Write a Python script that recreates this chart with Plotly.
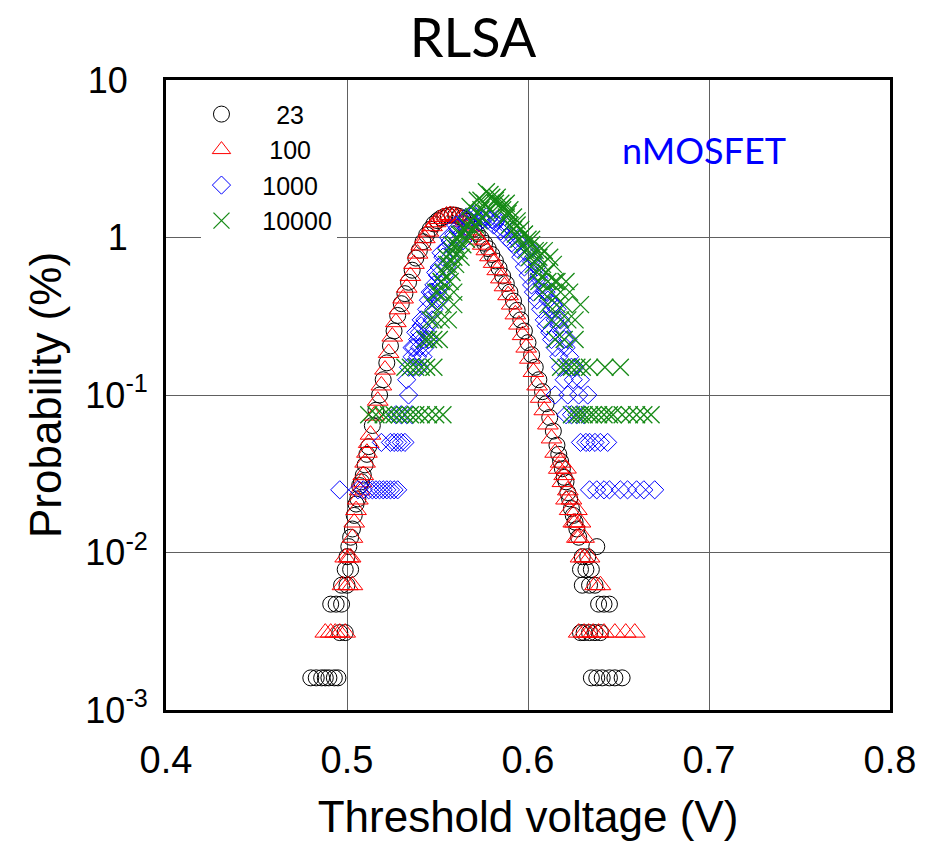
import plotly.graph_objects as go

# ---------------- data ----------------
# 23 (black circles)
v23 = [0.500, 0.502, 0.504, 0.506, 0.508, 0.510, 0.512, 0.514, 0.516, 0.518,
       0.520, 0.522, 0.524, 0.526, 0.528, 0.530, 0.532, 0.534, 0.536, 0.538,
       0.540, 0.542, 0.544, 0.546, 0.548, 0.550, 0.552, 0.554, 0.556, 0.558,
       0.560, 0.562, 0.564, 0.566, 0.568, 0.570, 0.572, 0.574, 0.576, 0.578,
       0.580, 0.582, 0.584, 0.586, 0.588, 0.590, 0.592, 0.594, 0.596, 0.598,
       0.600, 0.602, 0.604, 0.606, 0.608, 0.610, 0.612, 0.614, 0.616, 0.618,
       0.620, 0.622, 0.624, 0.626, 0.628, 0.630,
       0.480, 0.483, 0.486, 0.488, 0.490, 0.493, 0.495, 0.491, 0.494, 0.497,
       0.496, 0.499, 0.497, 0.500, 0.502, 0.499, 0.501, 0.503, 0.505, 0.507,
       0.511, 0.509,
       0.629, 0.632, 0.635, 0.630, 0.634, 0.637, 0.638, 0.633, 0.639, 0.642,
       0.645, 0.629, 0.631, 0.634, 0.637, 0.640, 0.635, 0.638, 0.641, 0.645,
       0.648, 0.652, 0.627, 0.625, 0.623, 0.621, 0.619, 0.617]
p23 = [0.0094, 0.0125, 0.0172, 0.0219, 0.0281, 0.036, 0.047, 0.064, 0.080, 0.100,
       0.125, 0.160, 0.205, 0.255, 0.320, 0.380, 0.440, 0.520, 0.620, 0.740,
       0.830, 0.940, 1.040, 1.130, 1.220, 1.280, 1.330, 1.360, 1.380, 1.390,
       1.385, 1.360, 1.320, 1.270, 1.200, 1.130, 1.060, 0.990, 0.920, 0.850,
       0.780, 0.710, 0.640, 0.570, 0.510, 0.450, 0.395, 0.345, 0.300, 0.255,
       0.215, 0.180, 0.150, 0.125, 0.105, 0.088, 0.072, 0.059, 0.048, 0.038,
       0.030, 0.024, 0.019, 0.0156, 0.0125, 0.0094,
       0.0016, 0.0016, 0.0016, 0.0016, 0.0016, 0.0016, 0.0016, 0.0047, 0.0047, 0.0047,
       0.0031, 0.0031, 0.0062, 0.0062, 0.0078, 0.0078, 0.0109, 0.0141, 0.0203, 0.0266,
       0.0420, 0.0310,
       0.0078, 0.0078, 0.0078, 0.0062, 0.0062, 0.0062, 0.0109, 0.0094, 0.0047, 0.0047,
       0.0047, 0.0031, 0.0031, 0.0031, 0.0031, 0.0031, 0.0016, 0.0016, 0.0016, 0.0016,
       0.0016, 0.0016, 0.0141, 0.0172, 0.0219, 0.0281, 0.0340, 0.0420]

# 100 (red triangles)
v100 = [0.501, 0.503, 0.505, 0.507, 0.509, 0.511, 0.513, 0.515, 0.517, 0.519,
        0.521, 0.523, 0.525, 0.527, 0.529, 0.531, 0.533, 0.535, 0.537, 0.539,
        0.541, 0.543, 0.545, 0.547, 0.549, 0.551, 0.553, 0.555, 0.557, 0.559,
        0.561, 0.563, 0.565, 0.567, 0.569, 0.571, 0.573, 0.575, 0.577, 0.579,
        0.581, 0.583, 0.585, 0.587, 0.589, 0.591, 0.593, 0.595, 0.597, 0.599,
        0.601, 0.603, 0.605, 0.607, 0.609, 0.611, 0.613, 0.615, 0.617, 0.619,
        0.621, 0.623, 0.625, 0.627, 0.629,
        0.488, 0.491, 0.4935, 0.496, 0.499, 0.4975, 0.5005, 0.503, 0.499, 0.502,
        0.504, 0.506, 0.508, 0.510, 0.512,
        0.628, 0.631, 0.6335, 0.636, 0.639, 0.642, 0.648, 0.654, 0.659, 0.637,
        0.640, 0.631, 0.634, 0.628, 0.631, 0.626, 0.629, 0.624, 0.627, 0.622,
        0.620, 0.618, 0.621]
p100 = [0.0093, 0.0124, 0.0186, 0.0248, 0.0310, 0.0430, 0.0560, 0.0740, 0.0920, 0.1150,
        0.1450, 0.1850, 0.2350, 0.2900, 0.3500, 0.4100, 0.4800, 0.5700, 0.6800, 0.7900,
        0.8900, 0.9900, 1.0900, 1.1800, 1.2500, 1.3100, 1.3500, 1.3800, 1.3900, 1.3800,
        1.3600, 1.3200, 1.2600, 1.1900, 1.1100, 1.0400, 0.9700, 0.9000, 0.8300, 0.7600,
        0.6900, 0.6200, 0.5500, 0.4900, 0.4300, 0.3750, 0.3250, 0.2800, 0.2400, 0.2000,
        0.1700, 0.1400, 0.1150, 0.0960, 0.0800, 0.0650, 0.0530, 0.0430, 0.0340, 0.0280,
        0.0217, 0.0186, 0.0155, 0.0124, 0.0093,
        0.0031, 0.0031, 0.0031, 0.0031, 0.0031, 0.0062, 0.0062, 0.0062, 0.0093, 0.0093,
        0.0155, 0.0217, 0.0279, 0.0372, 0.0496,
        0.0031, 0.0031, 0.0031, 0.0031, 0.0031, 0.0031, 0.0031, 0.0031, 0.0031, 0.0062,
        0.0062, 0.0093, 0.0093, 0.0124, 0.0124, 0.0155, 0.0155, 0.0217, 0.0186, 0.0248,
        0.0310, 0.0372, 0.0341]

# 1000 (blue diamonds)
v1000 = [0.496, 0.506, 0.509, 0.512, 0.514, 0.516, 0.518, 0.520, 0.522, 0.524, 0.526, 0.528,
         0.519, 0.524, 0.526, 0.528, 0.530, 0.532,
         0.527, 0.530, 0.533, 0.536,
         0.534, 0.533,
         0.534, 0.537, 0.540, 0.536, 0.539, 0.542, 0.537, 0.540, 0.543,
         0.539, 0.542, 0.545, 0.540, 0.544, 0.541, 0.545, 0.543, 0.547,
         0.544, 0.548, 0.545, 0.549, 0.551, 0.546, 0.550, 0.548, 0.552,
         0.550, 0.554, 0.551, 0.555, 0.553, 0.557, 0.555, 0.559,
         0.557, 0.561, 0.564, 0.559, 0.563, 0.561, 0.566,
         0.564, 0.569, 0.573, 0.567, 0.575, 0.580, 0.571, 0.577,
         0.583, 0.586, 0.581, 0.589, 0.585, 0.592, 0.588, 0.595,
         0.591, 0.598, 0.594, 0.601, 0.596, 0.603, 0.598, 0.605,
         0.600, 0.606, 0.602, 0.608, 0.603, 0.609, 0.613, 0.605, 0.611,
         0.607, 0.613, 0.616, 0.609, 0.615, 0.610, 0.617, 0.612, 0.619,
         0.613, 0.620, 0.615, 0.621, 0.617, 0.623, 0.618, 0.624,
         0.620, 0.625, 0.629, 0.615, 0.622, 0.628, 0.633,
         0.621, 0.624, 0.627, 0.631,
         0.629, 0.632, 0.634, 0.637, 0.640, 0.644,
         0.634, 0.638, 0.642, 0.645, 0.651, 0.655, 0.660, 0.664, 0.670,
         0.566, 0.570, 0.574, 0.578, 0.582, 0.560, 0.556, 0.552, 0.549, 0.547,
         0.586, 0.590, 0.594, 0.599, 0.602, 0.606, 0.610, 0.614, 0.541, 0.538,
         0.536, 0.618, 0.622, 0.626]
p1000 = [0.025, 0.025, 0.025, 0.025, 0.025, 0.025, 0.025, 0.025, 0.025, 0.025, 0.025, 0.025,
         0.05, 0.05, 0.05, 0.05, 0.05, 0.05,
         0.075, 0.075, 0.075, 0.075,
         0.1, 0.125,
         0.15, 0.15, 0.15, 0.175, 0.175, 0.175, 0.2, 0.2, 0.2,
         0.225, 0.225, 0.225, 0.25, 0.25, 0.275, 0.275, 0.3, 0.3,
         0.35, 0.35, 0.4, 0.4, 0.4, 0.45, 0.45, 0.5, 0.5,
         0.575, 0.575, 0.65, 0.65, 0.75, 0.75, 0.85, 0.85,
         0.95, 0.95, 0.95, 1.05, 1.05, 1.15, 1.15,
         1.25, 1.25, 1.25, 1.3, 1.3, 1.3, 1.35, 1.35,
         1.3, 1.25, 1.2, 1.2, 1.1, 1.1, 1.0, 1.0,
         0.925, 0.925, 0.85, 0.85, 0.75, 0.75, 0.65, 0.65,
         0.575, 0.575, 0.5, 0.5, 0.45, 0.45, 0.45, 0.4, 0.4,
         0.35, 0.35, 0.35, 0.3, 0.3, 0.275, 0.275, 0.25, 0.25,
         0.225, 0.225, 0.2, 0.2, 0.175, 0.175, 0.15, 0.15,
         0.125, 0.125, 0.125, 0.1, 0.1, 0.1, 0.1,
         0.075, 0.075, 0.075, 0.075,
         0.05, 0.05, 0.05, 0.05, 0.05, 0.05,
         0.025, 0.025, 0.025, 0.025, 0.025, 0.025, 0.025, 0.025, 0.025,
         1.35, 1.4, 1.35, 1.3, 1.25, 1.2, 1.0, 0.8, 0.6, 0.45,
         1.15, 1.05, 0.95, 0.8, 0.7, 0.55, 0.45, 0.375, 0.3, 0.25,
         0.2, 0.3, 0.225, 0.15]

# 10000 (green crosses)
v10000 = [0.512, 0.516, 0.520, 0.523, 0.526, 0.529, 0.532, 0.535, 0.538, 0.541, 0.545, 0.549, 0.553,
          0.532, 0.535, 0.538, 0.541, 0.544, 0.548,
          0.545, 0.548, 0.551, 0.548, 0.552, 0.556, 0.547, 0.553, 0.559,
          0.550, 0.554, 0.559, 0.552, 0.557, 0.553, 0.558, 0.556, 0.560,
          0.555, 0.559, 0.563, 0.558, 0.562, 0.560, 0.564, 0.561, 0.566,
          0.563, 0.567, 0.565, 0.570, 0.566, 0.571, 0.568, 0.573, 0.570, 0.575,
          0.572, 0.577, 0.574, 0.579, 0.576, 0.582, 0.574, 0.580, 0.577,
          0.583, 0.585, 0.588, 0.586, 0.590, 0.588, 0.592, 0.590, 0.594,
          0.592, 0.596, 0.593, 0.598, 0.595, 0.600, 0.597, 0.602,
          0.599, 0.604, 0.609, 0.601, 0.606, 0.612, 0.603, 0.608, 0.614,
          0.605, 0.610, 0.606, 0.611, 0.616, 0.621, 0.608, 0.613, 0.618, 0.623,
          0.611, 0.616, 0.629, 0.613, 0.618, 0.622, 0.615, 0.620, 0.626,
          0.618, 0.621, 0.624, 0.627, 0.630, 0.634, 0.6425, 0.651,
          0.624, 0.627, 0.629, 0.631, 0.634, 0.636, 0.639, 0.642, 0.645, 0.647,
          0.652, 0.656, 0.660, 0.664, 0.668,
          0.568, 0.572, 0.579, 0.582, 0.586, 0.589, 0.562, 0.558, 0.555, 0.552,
          0.594, 0.598, 0.602, 0.606, 0.610, 0.615, 0.620, 0.626, 0.549, 0.546,
          0.543]
p10000 = [0.075, 0.075, 0.075, 0.075, 0.075, 0.075, 0.075, 0.075, 0.075, 0.075, 0.075, 0.075, 0.075,
          0.15, 0.15, 0.15, 0.15, 0.15, 0.15,
          0.225, 0.225, 0.225, 0.3, 0.3, 0.3, 0.375, 0.375, 0.375,
          0.45, 0.45, 0.45, 0.525, 0.525, 0.6, 0.6, 0.675, 0.675,
          0.75, 0.75, 0.75, 0.825, 0.825, 0.9, 0.9, 0.975, 0.975,
          1.05, 1.05, 1.125, 1.125, 1.2, 1.2, 1.275, 1.275, 1.35, 1.35,
          1.425, 1.425, 1.5, 1.5, 1.65, 1.65, 1.725, 1.8, 1.95,
          1.8, 1.65, 1.65, 1.5, 1.5, 1.35, 1.35, 1.2, 1.2,
          1.125, 1.125, 1.05, 1.05, 0.975, 0.975, 0.9, 0.9,
          0.825, 0.825, 0.825, 0.75, 0.75, 0.75, 0.675, 0.675, 0.675,
          0.6, 0.6, 0.525, 0.525, 0.525, 0.525, 0.45, 0.45, 0.45, 0.45,
          0.375, 0.375, 0.375, 0.3, 0.3, 0.3, 0.225, 0.225, 0.225,
          0.15, 0.15, 0.15, 0.15, 0.15, 0.15, 0.15, 0.15,
          0.075, 0.075, 0.075, 0.075, 0.075, 0.075, 0.075, 0.075, 0.075, 0.075,
          0.075, 0.075, 0.075, 0.075, 0.075,
          1.575, 1.725, 1.875, 1.725, 1.575, 1.425, 1.05, 0.9, 0.675, 0.525,
          1.275, 1.05, 0.975, 0.825, 0.6, 0.525, 0.375, 0.3, 0.45, 0.3,
          0.225]

series_names = ["23", "100", "1000", "10000"]
NB = "\u00a0"
legend_labels = [NB * 5 + "23", NB * 4 + "100", NB * 3 + "1000", NB * 3 + "10000"]
x_ticks = [0.4, 0.5, 0.6, 0.7, 0.8]
x_tick_text = ["0.4", "0.5", "0.6", "0.7", "0.8"]
y_ticks = [0.001, 0.01, 0.1, 1, 10]
y_tick_text = ["10<sup>-3</sup>", "10<sup>-2</sup>", "10<sup>-1</sup>",
               "1" + NB * 2, "10" + NB * 2]

# ---------------- figure ----------------
styles = [
    dict(symbol="circle-open", size=16, color="black", lw=1),
    dict(symbol="triangle-up-open", size=18, color="#ff0000", lw=1),
    dict(symbol="diamond-open", size=14, color="#0000ff", lw=1),
    dict(symbol="x-thin-open", size=17, color="#168a16", lw=1.3),
]
xs = [v23, v100, v1000, v10000]
ys = [p23, p100, p1000, p10000]

fig = go.Figure()
for xv, yv, lab, st in zip(xs, ys, legend_labels, styles):
    fig.add_trace(go.Scatter(
        x=xv, y=yv, mode="markers", name=lab,
        marker=dict(symbol=st["symbol"], size=st["size"], color=st["color"],
                    line=dict(width=st["lw"], color=st["color"])),
    ))

axis_font = dict(family="Liberation Sans, Arial, sans-serif", color="black")

fig.update_layout(
    width=933, height=844,
    margin=dict(l=166, r=43, t=80, b=134),
    paper_bgcolor="white", plot_bgcolor="white",
    title=dict(text="RLSA", x=0.507, xref="container", xanchor="center",
               y=0.955, yref="container", yanchor="middle",
               font=dict(family="Lato, Open Sans, sans-serif", size=54, color="black")),
    showlegend=True,
    legend=dict(x=0.049, y=0.982, xanchor="left", yanchor="top",
                bgcolor="white", borderwidth=0,
                font=dict(family="Liberation Sans, Arial, sans-serif", size=25, color="black"),
                tracegroupgap=0, itemsizing="trace", entrywidth=104),
    annotations=[dict(text="nMOSFET", xref="paper", yref="paper", x=0.743, y=0.889,
                      showarrow=False, xanchor="center", yanchor="middle",
                      font=dict(family="Lato, Open Sans, sans-serif", size=36, color="#0000ff"))],
)

fig.update_xaxes(
    range=[0.4, 0.8], tickvals=x_ticks, ticktext=x_tick_text,
    showgrid=True, gridcolor="#606060", gridwidth=1, zeroline=False,
    showline=True, mirror=True, linecolor="black", linewidth=3, ticks="",
    tickfont=dict(size=38, **axis_font), ticklabelstandoff=14,
    title=dict(text="Threshold voltage (V)", font=dict(size=44, **axis_font), standoff=22),
)
fig.update_yaxes(
    type="log", range=[-3, 1], tickvals=y_ticks, ticktext=y_tick_text,
    showgrid=True, gridcolor="#606060", gridwidth=1, zeroline=False,
    showline=True, mirror=True, linecolor="black", linewidth=3, ticks="",
    tickfont=dict(size=36, **axis_font), ticklabelstandoff=8,
    title=dict(text="Probability (%)", font=dict(size=44, **axis_font), standoff=10),
)

fig.write_html("out.html")
